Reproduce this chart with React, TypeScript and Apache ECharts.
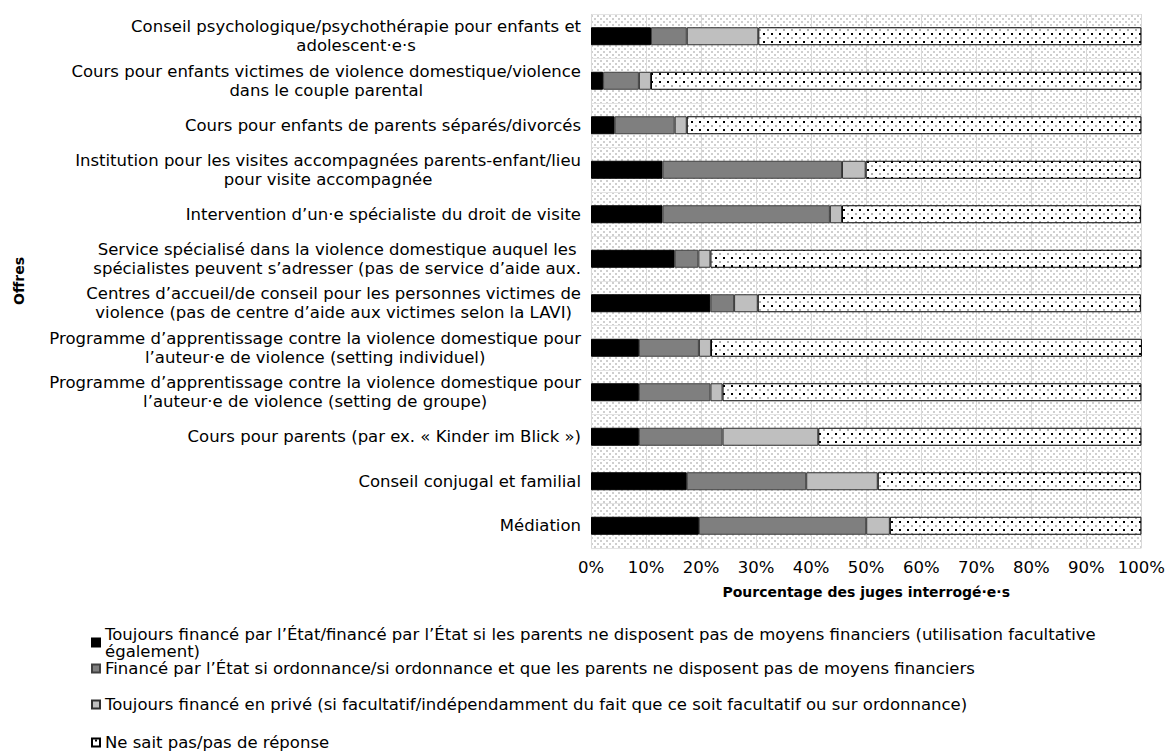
import React, { useEffect, useRef } from 'react';
import * as echarts from 'echarts';

const FONT = '"DejaVu Sans", Verdana, sans-serif';

const categories = [
  'Conseil psychologique/psychothérapie pour enfants et\nadolescent·e·s',
  'Cours pour enfants victimes de violence domestique/violence\ndans le couple parental',
  'Cours pour enfants de parents séparés/divorcés',
  'Institution pour les visites accompagnées parents-enfant/lieu\npour visite accompagnée',
  'Intervention d’un·e spécialiste du droit de visite',
  'Service spécialisé dans la violence domestique auquel les\nspécialistes peuvent s’adresser (pas de service d’aide aux.',
  'Centres d’accueil/de conseil pour les personnes victimes de\nviolence (pas de centre d’aide aux victimes selon la LAVI)',
  'Programme d’apprentissage contre la violence domestique pour\nl’auteur·e de violence (setting individuel)',
  'Programme d’apprentissage contre la violence domestique pour\nl’auteur·e de violence (setting de groupe)',
  'Cours pour parents (par ex. « Kinder im Blick »)',
  'Conseil conjugal et familial',
  'Médiation',
];

const seriesNames = [
  'Toujours financé par l’État/financé par l’État si les parents ne disposent pas de moyens financiers (utilisation facultative également)',
  'Financé par l’État si ordonnance/si ordonnance et que les parents ne disposent pas de moyens financiers',
  'Toujours financé en privé (si facultatif/indépendamment du fait que ce soit facultatif ou sur ordonnance)',
  'Ne sait pas/pas de réponse',
];

const etatToujours = [10.9, 2.2, 4.3, 13.0, 13.0, 15.2, 21.7, 8.7, 8.7, 8.7, 17.4, 19.6];
const etatOrdonnance = [6.5, 6.5, 10.9, 32.6, 30.4, 4.3, 4.3, 10.9, 13.0, 15.2, 21.7, 30.4];
const prive = [13.0, 2.2, 2.2, 4.3, 2.2, 2.2, 4.3, 2.2, 2.2, 17.4, 13.0, 4.3];
const neSaitPas = [69.6, 89.1, 82.6, 50.0, 54.3, 78.3, 69.6, 78.3, 76.1, 58.7, 47.8, 45.7];

const xTicks = { min: 0, max: 100, interval: 10 };

function makeTile(w: number, h: number, bg: string, dots: Array<[number, number, number, number, string]>) {
  const c = document.createElement('canvas');
  c.width = w;
  c.height = h;
  const ctx = c.getContext('2d')!;
  ctx.fillStyle = bg;
  ctx.fillRect(0, 0, w, h);
  dots.forEach(([x, y, dw, dh, col]) => {
    ctx.fillStyle = col;
    ctx.fillRect(x, y, dw, dh);
  });
  return c;
}

export default function App() {
  const ref = useRef<HTMLDivElement>(null);

  useEffect(() => {
    if (!ref.current) return;
    const chart = echarts.init(ref.current, undefined, { renderer: 'svg' });

    const bgTile = makeTile(6, 6, '#ffffff', [
      [0, 0, 2, 2, '#cfcfcf'],
      [3, 3, 2, 2, '#cfcfcf'],
    ]);
    const dotTile = makeTile(8, 8, '#ffffff', [
      [3, 1, 2, 2, '#000000'],
      [7, 5, 2, 2, '#b0b0b0'],
      [0, 5, 1, 2, '#b0b0b0'],
    ]);

    const fills: any[] = [
      '#000000',
      '#7f7f7f',
      '#bfbfbf',
      { image: dotTile, repeat: 'repeat' },
    ];
    const borders = ['#000000', '#404040', '#303030', '#000000'];
    const values = [etatToujours, etatOrdonnance, prive, neSaitPas];

    const legendTops = [617, 660, 696, 734];
    const legendLineHeights = [17, 14, 14, 14];
    const FS = 16.5;

    chart.setOption({
      animation: false,
      textStyle: { fontFamily: FONT, color: '#000' },
      grid: {
        left: 591,
        right: 26,
        top: 14,
        bottom: 206,
        show: true,
        backgroundColor: { image: bgTile, repeat: 'repeat' },
        borderWidth: 0,
        containLabel: false,
      },
      xAxis: {
        type: 'value',
        min: xTicks.min,
        max: xTicks.max,
        interval: xTicks.interval,
        axisLabel: {
          formatter: '{value}%',
          fontSize: FS,
          fontFamily: FONT,
          color: '#000',
          margin: 11,
        },
        axisLine: { show: false },
        axisTick: { show: false },
        splitLine: { show: true, lineStyle: { color: '#d9d9d9', width: 1 } },
        name: 'Pourcentage des juges interrogé·e·s',
        nameLocation: 'middle',
        nameGap: 37,
        nameTextStyle: { fontSize: 14, fontWeight: 'bold', fontFamily: FONT, color: '#000' },
      },
      yAxis: {
        type: 'category',
        data: categories,
        inverse: true,
        axisLine: { show: false },
        axisTick: { show: false },
        splitLine: { show: true, lineStyle: { color: '#e4e4e4', width: 1 } },
        axisLabel: {
          margin: 10,
          fontSize: FS,
          fontFamily: FONT,
          color: '#000',
          lineHeight: 19,
          formatter: (v: string) => v.split('\n').map((l) => `{c|${l}}`).join('\n'),
          rich: {
            c: { align: 'center', fontSize: FS, fontFamily: FONT, color: '#000', lineHeight: 19 },
          },
        },
        name: 'Offres',
        nameLocation: 'middle',
        nameRotate: 90,
        nameGap: 565,
        nameTextStyle: { fontSize: 14, fontWeight: 'bold', fontFamily: FONT, color: '#000' },
      },
      legend: seriesNames.map((n, i) => ({
        data: [n],
        left: 91,
        top: legendTops[i],
        padding: 0,
        itemWidth: 8,
        itemHeight: 8,
        itemGap: 0,
        icon: 'rect',
        selectedMode: false,
        textStyle: {
          fontSize: FS,
          fontFamily: FONT,
          color: '#000',
          lineHeight: legendLineHeights[i],
          padding: i === 0 ? [legendLineHeights[i], 0, 0, 0] : 0,
        },
        formatter: i === 0 ? (name: string) => name.replace(' également)', '\négalement)') : '{name}',
      })),
      series: seriesNames.map((n, i) => ({
        name: n,
        type: 'bar',
        stack: 'total',
        barWidth: 18,
        data: values[i],
        itemStyle: { color: fills[i], borderColor: borders[i], borderWidth: 1 },
        emphasis: { disabled: true },
      })),
    });

    return () => chart.dispose();
  }, []);

  return (
    <div
      ref={ref}
      style={{ position: 'fixed', left: 0, top: 0, width: 1168, height: 754, background: '#fff' }}
    />
  );
}
